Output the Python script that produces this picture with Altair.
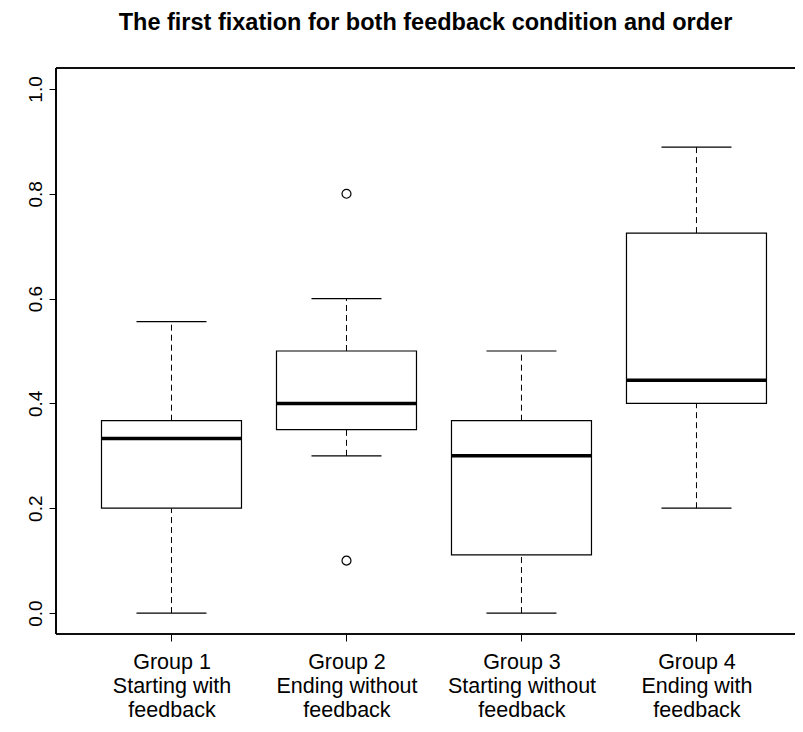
import json
import altair as alt
import pandas as pd

# ---- data ----
groups = [1, 2, 3, 4]
group_labels = [
    ["Group 1", "Starting with", "feedback"],
    ["Group 2", "Ending without", "feedback"],
    ["Group 3", "Starting without", "feedback"],
    ["Group 4", "Ending with", "feedback"],
]
whisker_low = [0.0, 0.3, 0.0, 0.2]
q1 = [0.2, 0.35, 0.111, 0.4]
median = [0.333, 0.4, 0.3, 0.444]
q3 = [0.367, 0.5, 0.367, 0.725]
whisker_high = [0.556, 0.6, 0.5, 0.889]
outlier_group = [2, 2]
outlier_value = [0.8, 0.1]
y_ticks = [0.0, 0.2, 0.4, 0.6, 0.8, 1.0]
title_text = "The first fixation for both feedback condition and order"

FONT = "Liberation Sans"
W, H = 739, 566

box_df = pd.DataFrame({
    "g": groups, "low": whisker_low, "q1": q1, "med": median,
    "q3": q3, "high": whisker_high,
})
out_df = pd.DataFrame({"g": outlier_group, "v": outlier_value})

xscale = alt.Scale(domain=[0.34, 4.563], nice=False, zero=False)
yscale = alt.Scale(domain=[-0.04, 1.04], nice=False, zero=False)

label_expr = json.dumps(group_labels) + "[datum.value - 1]"
x_axis = alt.Axis(values=groups, title=None, domain=False, grid=False,
                  tickSize=7, tickColor="black", tickWidth=1,
                  labelExpr=label_expr, labelFont=FONT, labelFontSize=21.5,
                  labelColor="black", labelLineHeight=24, labelPadding=10,
                  labelBaseline="top")
y_axis = alt.Axis(values=y_ticks, format=".1f", title=None, domain=False,
                  grid=False, tickSize=7, tickColor="black", tickWidth=1,
                  labelFont=FONT, labelFontSize=19, labelColor="black",
                  labelAngle=-90, labelAlign="center", labelBaseline="bottom",
                  labelPadding=4)

base = alt.Chart(box_df).transform_calculate(
    xl="datum.g - 0.4", xr="datum.g + 0.4",
    cl="datum.g - 0.2", cr="datum.g + 0.2",
)

upper_whisker = base.mark_rule(color="black", strokeWidth=1, strokeDash=[6, 4]).encode(
    x=alt.X("g:Q", scale=xscale, axis=x_axis),
    y=alt.Y("q3:Q", scale=yscale, axis=y_axis),
    y2="high:Q",
)
lower_whisker = base.mark_rule(color="black", strokeWidth=1, strokeDash=[6, 4]).encode(
    x=alt.X("g:Q", scale=xscale, axis=x_axis),
    y=alt.Y("low:Q", scale=yscale, axis=y_axis),
    y2="q1:Q",
)
cap_high = base.mark_rule(color="black", strokeWidth=1.2).encode(
    x=alt.X("cl:Q", scale=xscale, axis=x_axis),
    x2="cr:Q",
    y=alt.Y("high:Q", scale=yscale, axis=y_axis),
)
cap_low = base.mark_rule(color="black", strokeWidth=1.2).encode(
    x=alt.X("cl:Q", scale=xscale, axis=x_axis),
    x2="cr:Q",
    y=alt.Y("low:Q", scale=yscale, axis=y_axis),
)
boxes = base.mark_rect(fill="white", stroke="black", strokeWidth=1.2).encode(
    x=alt.X("xl:Q", scale=xscale, axis=x_axis),
    x2="xr:Q",
    y=alt.Y("q1:Q", scale=yscale, axis=y_axis),
    y2="q3:Q",
)
medians = base.mark_rule(color="black", strokeWidth=3.5).encode(
    x=alt.X("xl:Q", scale=xscale, axis=x_axis),
    x2="xr:Q",
    y=alt.Y("med:Q", scale=yscale, axis=y_axis),
)
outliers = alt.Chart(out_df).mark_point(
    shape="circle", filled=False, color="black", size=80, strokeWidth=1.2, opacity=1
).encode(
    x=alt.X("g:Q", scale=xscale, axis=x_axis),
    y=alt.Y("v:Q", scale=yscale, axis=y_axis),
)

frame_top = alt.Chart(box_df).mark_rule(color="black", strokeWidth=1.2).encode(
    x=alt.value(0), x2=alt.value(W), y=alt.value(0))
frame_bottom = alt.Chart(box_df).mark_rule(color="black", strokeWidth=1.2).encode(
    x=alt.value(0), x2=alt.value(W), y=alt.value(H))
frame_left = alt.Chart(box_df).mark_rule(color="black", strokeWidth=1.2).encode(
    x=alt.value(0), y=alt.value(0), y2=alt.value(H))

chart = alt.layer(
    upper_whisker, lower_whisker, cap_high, cap_low, boxes, medians, outliers,
    frame_top, frame_bottom, frame_left,
).properties(
    width=W, height=H,
    title=alt.TitleParams(title_text, font=FONT, fontSize=23.5, fontWeight="bold",
                          color="black", anchor="middle", offset=33),
    autosize=alt.AutoSizeParams(type="none"),
    padding={"left": 48, "top": 60, "right": 0, "bottom": 90},
).configure_view(stroke=None)

chart.save("out.html", embed_options={"renderer": "svg", "actions": False})
